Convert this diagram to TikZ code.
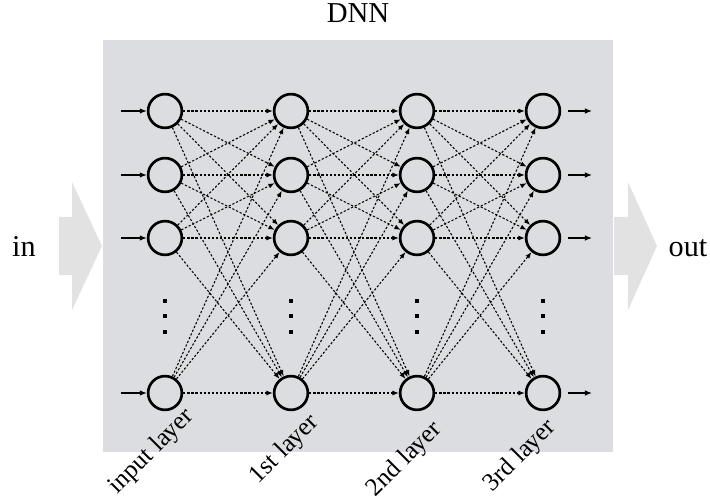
\documentclass[tikz,border=0pt]{standalone}
\usepackage{fontspec}
\setmainfont{Liberation Serif}
\usetikzlibrary{arrows}
\usetikzlibrary{arrows.meta}
\usepackage{xcolor}
\definecolor{boxgray}{HTML}{DCDDE0}
\definecolor{flowgray}{HTML}{E2E2E2}

\begin{document}
\begin{tikzpicture}[x=0.025cm,y=-0.025cm]
\tikzstyle{neuron}=[circle,draw,line width=1.9pt,minimum size=24pt,inner sep=0pt]
\tikzstyle{link}=[dash pattern=on 1.6pt off 1.3pt,line width=0.75pt,-{Latex[length=4.5pt,width=3.5pt]}]
\tikzstyle{feed}=[line width=0.9pt,-{Latex[length=5pt,width=4pt]}]
\useasboundingbox (0,0) rectangle (710,503);
\fill[boxgray] (103,40) rectangle (613,452);
% wide in/out arrows
\fill[flowgray] (59,217) -- (72,217) -- (72,182) -- (102,246) -- (72,310) -- (72,275) -- (59,275) -- cycle;
\fill[flowgray] (614,217) -- (628,217) -- (628,182) -- (657,246) -- (628,310) -- (628,275) -- (614,275) -- cycle;
\node[font=\fontsize{21.5}{24}\selectfont,anchor=base] (in) at (24,257) {in};
\node[font=\fontsize{21.5}{24}\selectfont,anchor=base] (out) at (688,257) {out};
\node[font=\fontsize{20.5}{24}\selectfont,anchor=base] (dnn) at (358,23) {DNN};
% neurons, four per layer
\foreach \c in {0,...,3}
  \foreach \r/\y in {1/111,2/175,3/238,4/393}
    \node[neuron] (n\c\r) at ({165+126*\c},\y) {};
% vertical dots
\foreach \c in {0,...,3}
  \foreach \y in {301,316,332}
    \fill ({163+126*\c},{\y-2}) rectangle ++(4,4);
% fully connected layers
\foreach \c [evaluate=\c as \d using int(\c+1)] in {0,1,2}
  \foreach \i in {1,...,4}
    \foreach \j in {1,...,4}
      \draw[link] (n\c\i) -- (n\d\j);
% inputs and outputs
\foreach \r/\y in {1/111,2/175,3/238,4/393}
{
  \coordinate (in\r) at (121,\y);
  \coordinate (out\r) at (592,\y);
  \draw[feed] (in\r) -- (n0\r);
  \draw[feed,shorten <=5pt] (n3\r) -- (out\r);
}
\foreach \t/\x/\y [count=\k] in {input layer/195/417,1st layer/320/423,2nd layer/443/430,3rd layer/557/428}
  \node[rotate=45,anchor=base east,font=\fontsize{18}{20}\selectfont,inner sep=0pt] (lab\k) at (\x,\y) {\t};
\end{tikzpicture}
\end{document}
